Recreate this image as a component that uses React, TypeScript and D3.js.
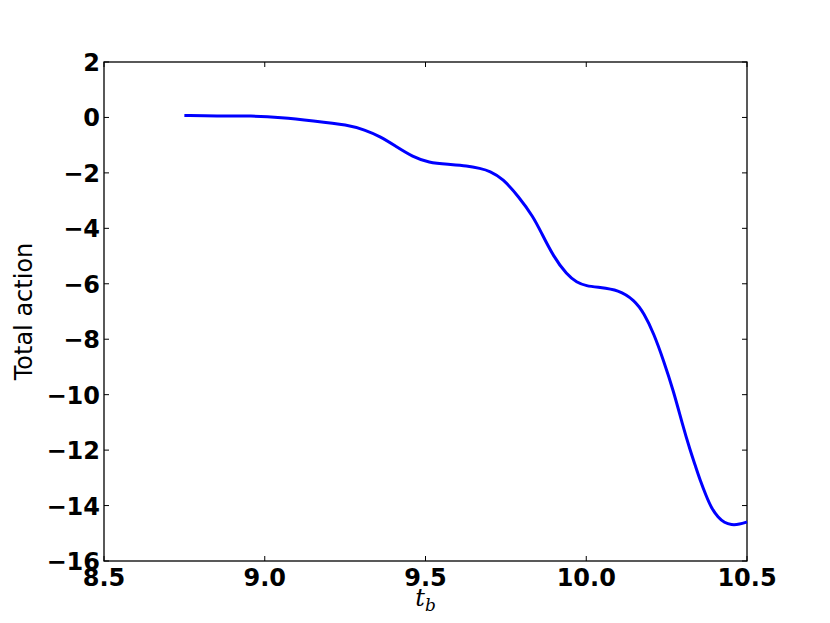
import { useRef, useEffect } from "react";
import * as d3 from "d3";

const tb = [8.75, 8.85, 8.96, 9.05, 9.15, 9.26, 9.31, 9.36, 9.41, 9.46, 9.51, 9.57, 9.63, 9.67, 9.7, 9.74, 9.79, 9.835, 9.86, 9.898, 9.94, 9.97, 10.0, 10.04, 10.1, 10.15, 10.18, 10.21, 10.24, 10.271, 10.3, 10.323, 10.339, 10.354, 10.373, 10.389, 10.41, 10.43, 10.451, 10.477, 10.5];
const action = [0.07, 0.05, 0.06, 0.0, -0.12, -0.27, -0.45, -0.69, -1.06, -1.42, -1.63, -1.69, -1.74, -1.84, -1.93, -2.2, -2.86, -3.58, -4.15, -5.02, -5.68, -5.95, -6.08, -6.13, -6.22, -6.59, -7.07, -7.79, -8.75, -9.85, -11.1, -12.0, -12.55, -13.08, -13.65, -14.08, -14.43, -14.62, -14.7, -14.68, -14.59];
const xTicks = [8.5, 9.0, 9.5, 10.0, 10.5];
const yTicks = [2, 0, -2, -4, -6, -8, -10, -12, -14, -16];

const App = () => {
  const svgRef = useRef<SVGSVGElement>(null);
  const width = 830;
  const height = 623;
  const margin = { top: 62, right: 83, bottom: 62, left: 104 };

  useEffect(() => {
    const svg = d3.select(svgRef.current);
    svg.selectAll("*").remove();

    const x = d3.scaleLinear().domain([8.5, 10.5]).range([margin.left, width - margin.right]);
    const y = d3.scaleLinear().domain([-16, 2]).range([height - margin.bottom, margin.top]);
    const font = "'DejaVu Sans', sans-serif";

    // frame
    svg
      .append("rect")
      .attr("x", x(8.5))
      .attr("y", y(2))
      .attr("width", x(10.5) - x(8.5))
      .attr("height", y(-16) - y(2))
      .attr("fill", "white")
      .attr("stroke", "black")
      .attr("stroke-width", 1.3);

    // ticks pointing inward on all sides
    const tl = 5;
    const tg = svg.append("g").attr("stroke", "black").attr("stroke-width", 1);
    xTicks.forEach((t) => {
      tg.append("line").attr("x1", x(t)).attr("x2", x(t)).attr("y1", y(-16)).attr("y2", y(-16) - tl);
      tg.append("line").attr("x1", x(t)).attr("x2", x(t)).attr("y1", y(2)).attr("y2", y(2) + tl);
    });
    yTicks.forEach((t) => {
      tg.append("line").attr("x1", x(8.5)).attr("x2", x(8.5) + tl).attr("y1", y(t)).attr("y2", y(t));
      tg.append("line").attr("x1", x(10.5)).attr("x2", x(10.5) - tl).attr("y1", y(t)).attr("y2", y(t));
    });

    svg
      .append("g")
      .selectAll("text")
      .data(xTicks)
      .join("text")
      .attr("x", (d) => x(d))
      .attr("y", y(-16) + 25)
      .attr("text-anchor", "middle")
      .attr("font-family", font)
      .attr("font-weight", "bold")
      .attr("font-size", 24)
      .text((d) => d.toFixed(1));

    svg
      .append("g")
      .selectAll("text")
      .data(yTicks)
      .join("text")
      .attr("x", x(8.5) - 4)
      .attr("y", (d) => y(d) + 9)
      .attr("text-anchor", "end")
      .attr("font-family", font)
      .attr("font-weight", "bold")
      .attr("font-size", 24)
      .text((d) => (d < 0 ? "\u2212" + Math.abs(d) : String(d)));

    // basis curve smooths out reading noise in the sampled points
    const line = d3
      .line<number>()
      .x((_, i) => x(tb[i]))
      .y((d) => y(d))
      .curve(d3.curveBasis);

    svg
      .append("path")
      .datum(action)
      .attr("d", line)
      .attr("fill", "none")
      .attr("stroke", "#0000ff")
      .attr("stroke-width", 3);

    svg
      .append("text")
      .attr("transform", `translate(32, ${(y(2) + y(-16)) / 2}) rotate(-90)`)
      .attr("text-anchor", "middle")
      .attr("font-family", font)
      .attr("font-size", 24)
      .text("Total action");

    const xl = svg
      .append("text")
      .attr("x", (x(8.5) + x(10.5)) / 2)
      .attr("y", 606)
      .attr("text-anchor", "middle")
      .attr("font-family", "'DejaVu Serif', serif")
      .attr("font-style", "italic")
      .attr("font-size", 24);
    xl.append("tspan").text("t");
    xl.append("tspan").attr("dy", 5).attr("font-size", 17).text("b");
  }, []);

  return <svg ref={svgRef} width={width} height={height} style={{ display: "block", margin: -8 }} />;
};

export default App;
